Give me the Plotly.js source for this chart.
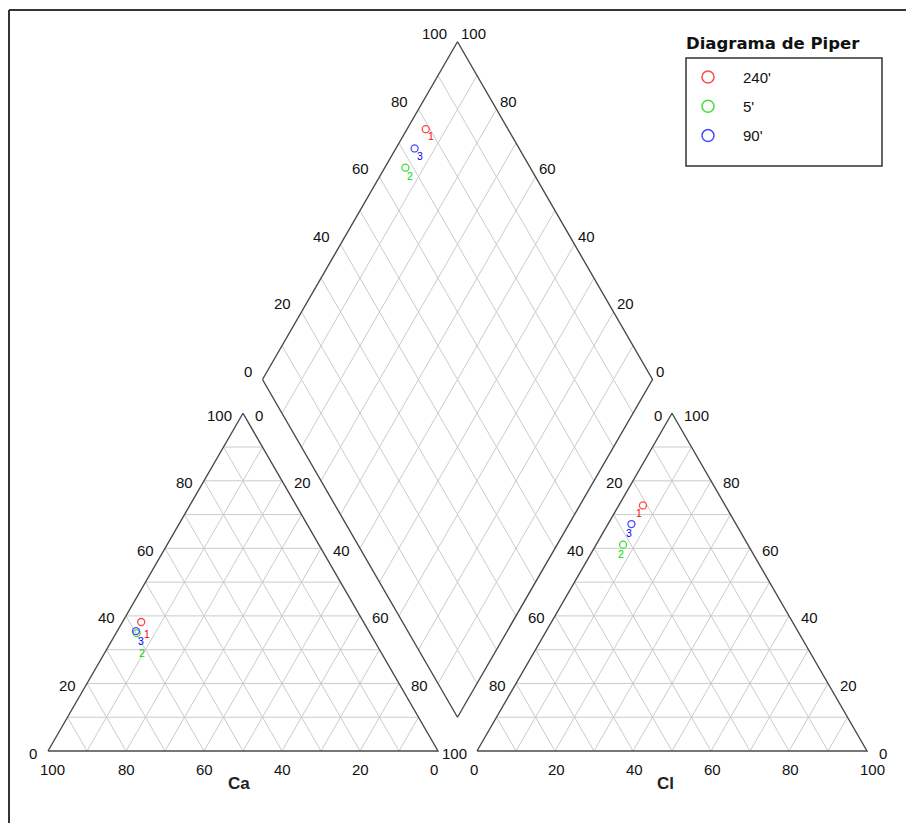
<!DOCTYPE html>
<html><head><meta charset="utf-8">
<script src="https://cdn.plot.ly/plotly-3.0.1.min.js"></script>
<style>html,body{margin:0;padding:0;background:#fff}#chart{width:906px;height:823px}</style>
</head><body><div id="chart"></div>
<script>
// ---------- data (percent of meq) ----------
const sampleIds   = ['1', '2', '3'];
const sampleNames = ["240'", "5'", "90'"];
const Ca   = [57.0, 59.8, 59.7];
const Mg   = [38.2, 34.9, 35.5];
const NaK  = [4.8, 5.3, 4.8];
const HCO3 = [21.1, 32.0, 26.8];
const SO4  = [72.7, 61.1, 67.2];
const Cl   = [6.2, 6.9, 6.0];
const tickValues = [0, 20, 40, 60, 80, 100];
const gridSteps = [10, 20, 30, 40, 50, 60, 70, 80, 90];
const cationTitle = 'Ca';
const anionTitle = 'Cl';
const legendTitle = 'Diagrama de Piper';

// ---------- styles ----------
const markerColors = ['#ff4a4a', '#3ee03e', '#4a4aff'];
const labelColors  = ['#ff0000', '#00d800', '#0000ff'];
const drawOrder = [0, 1, 2];
// label offsets (px, right/down) per panel [cation, diamond, anion], per sample
const labelOffsets = [
  [[6, 12], [5, 7], [-4, 8]],
  [[5, 20], [5, 8], [-2, 9]],
  [[5, 10], [5, 8], [-2, 9]]
];

// ---------- geometry (chart units, triangle side = 100) ----------
const H = Math.sqrt(3) / 2, GAP = 10;
const PXU = 3.9, X0 = 48, Y0 = 751, W = 906, HT = 823;
const A = [0, 0], B = [100, 0], C = [50, 100 * H];
const A2 = [100 + GAP, 0], B2 = [200 + GAP, 0], C2 = [150 + GAP, 100 * H];
const DB = [100 + GAP / 2, GAP * H];
const DL = [DB[0] - 50, DB[1] + 100 * H];
const DR = [DB[0] + 50, DB[1] + 100 * H];
const DT = [DB[0], DB[1] + 200 * H];
const lerp = (P, Q, t) => [P[0] + (Q[0] - P[0]) * t, P[1] + (Q[1] - P[1]) * t];
const pxX = px => (px - X0) / PXU;
const pxY = py => (Y0 - py) / PXU;

// ---------- grid ----------
const gx = [], gy = [];
function seg(P, Q) { gx.push(P[0], Q[0], null); gy.push(P[1], Q[1], null); }
function triGrid(a, b, c) {
  gridSteps.forEach(k => {
    const t = k / 100;
    seg(lerp(a, c, t), lerp(b, c, t));   // parallel to base
    seg(lerp(a, b, t), lerp(c, b, t));   // parallel to left side
    seg(lerp(a, b, t), lerp(a, c, t));   // parallel to right side
  });
}
triGrid(A, B, C);
triGrid(A2, B2, C2);
gridSteps.forEach(k => {
  const t = k / 100;
  seg(lerp(DL, DT, t), lerp(DB, DR, t));
  seg(lerp(DL, DB, t), lerp(DT, DR, t));
});
const ex = [], ey = [];
function poly(pts) { pts.forEach(p => { ex.push(p[0]); ey.push(p[1]); }); ex.push(pts[0][0], null); ey.push(pts[0][1], null); }
poly([A, B, C]); poly([A2, B2, C2]); poly([DL, DB, DR, DT]);

const traces = [
  {x: gx, y: gy, mode: 'lines', line: {color: '#cbcbcb', width: 1}, hoverinfo: 'skip', showlegend: false},
  {x: ex, y: ey, mode: 'lines', line: {color: '#4a4a4a', width: 1.4}, hoverinfo: 'skip', showlegend: false}
];

// ---------- sample positions ----------
function cationPt(i) { return [NaK[i] + Mg[i] / 2, Mg[i] * H]; }
function anionPt(i) { return [A2[0] + Cl[i] + SO4[i] / 2, SO4[i] * H]; }
function diamondPt(i) {
  const u = NaK[i] / 100, w = (SO4[i] + Cl[i]) / 100;
  return [DL[0] + u * (DB[0] - DL[0]) + w * (DT[0] - DL[0]), DL[1] + u * (DB[1] - DL[1]) + w * (DT[1] - DL[1])];
}
const annotations = [];
const labelFont = c => ({family: 'Liberation Sans, Arial, sans-serif', size: 10.5, color: c});
drawOrder.forEach(i => {
  const pts = [cationPt(i), diamondPt(i), anionPt(i)];
  traces.push({x: pts.map(p => p[0]), y: pts.map(p => p[1]), mode: 'markers', name: sampleNames[i],
    marker: {symbol: 'circle-open', size: 7, color: markerColors[i], line: {width: 1.3, color: markerColors[i]}},
    hoverinfo: 'skip', showlegend: false});
  pts.forEach((p, j) => annotations.push({x: p[0], y: p[1], text: sampleIds[i], showarrow: false,
    xanchor: 'center', yanchor: 'middle', xshift: labelOffsets[i][j][0], yshift: -labelOffsets[i][j][1], borderpad: 0,
    font: labelFont(labelColors[i])}));
});

// ---------- tick labels ----------
const tickFont = {family: 'Liberation Sans, Arial, sans-serif', size: 15, color: '#111'};
function lab(P, text, anchor, dx, dy) {
  annotations.push({x: P[0], y: P[1], text: String(text), showarrow: false, xanchor: anchor, yanchor: 'middle',
    xshift: dx, yshift: -dy, borderpad: 0, font: tickFont});
}
tickValues.forEach(v => {
  const t = v / 100;
  // cation triangle
  lab(lerp(A, B, t), 100 - v, 'left', -9, 18);          // Ca
  lab(lerp(A, C, t), v, 'right', -10, 2);               // Mg
  if (v < 100) lab(lerp(C, B, t), v, 'left', 11, 2);    // Na+K
  // anion triangle
  lab(lerp(A2, B2, t), v, 'left', -8, 18);              // Cl
  lab(lerp(C2, A2, t), v, 'right', -9, 2);              // HCO3
  lab(lerp(B2, C2, t), v, 'left', 11, 2);               // SO4
  // diamond
  lab(lerp(DL, DT, t), v, 'right', -10, -8);            // SO4+Cl
  lab(lerp(DR, DT, t), v, 'left', 2, -8);               // Ca+Mg
});
const titleFont = {family: 'Liberation Sans, Arial, sans-serif', size: 17, color: '#222'};
annotations.push({x: (A[0] + B[0]) / 2, y: 0, text: '<b>' + cationTitle + '</b>', showarrow: false,
  xanchor: 'center', yanchor: 'middle', xshift: -4, yshift: -32, font: titleFont});
annotations.push({x: (A2[0] + B2[0]) / 2, y: 0, text: '<b>' + anionTitle + '</b>', showarrow: false,
  xanchor: 'center', yanchor: 'middle', xshift: -7, yshift: -32, font: titleFont});

// ---------- legend (drawn in layout) ----------
const LG = {left: 686, right: 882, top: 58, bottom: 166, symX: 708, textX: 742, firstY: 77, step: 29.3, titleY: 43};
annotations.push({x: pxX(LG.left), y: pxY(LG.titleY), text: '<b>' + legendTitle + '</b>', showarrow: false,
  xanchor: 'left', yanchor: 'middle', borderpad: 0, xshift: -1,
  font: {family: 'DejaVu Sans, Verdana, sans-serif', size: 16.5, color: '#111'}});
const legX = [], legY = [], legC = [];
sampleNames.forEach((n, i) => {
  const y = pxY(LG.firstY + LG.step * i);
  legX.push(pxX(LG.symX)); legY.push(y); legC.push(markerColors[i]);
  annotations.push({x: pxX(LG.textX), y: y, text: n, showarrow: false, xanchor: 'left', yanchor: 'middle',
    borderpad: 0, font: {family: 'Liberation Sans, Arial, sans-serif', size: 15, color: '#111'}});
});
traces.push({x: legX, y: legY, mode: 'markers', hoverinfo: 'skip', showlegend: false,
  marker: {symbol: 'circle-open', size: 12, color: legC, line: {width: 1.5, color: legC}}});

const shapes = [
  {type: 'rect', xref: 'x', yref: 'y', x0: pxX(LG.left), x1: pxX(LG.right), y0: pxY(LG.top), y1: pxY(LG.bottom),
   line: {color: '#333', width: 1.5}},
  {type: 'line', xref: 'paper', yref: 'paper', x0: 9 / W, x1: 9 / W, y0: 1 - 10 / HT, y1: -0.05, line: {color: '#333', width: 2}},
  {type: 'line', xref: 'paper', yref: 'paper', x0: 9 / W, x1: 1.05, y0: 1 - 10 / HT, y1: 1 - 10 / HT, line: {color: '#333', width: 2}}
];

const layout = {
  width: W, height: HT, margin: {l: 0, r: 0, t: 0, b: 0},
  paper_bgcolor: '#fff', plot_bgcolor: '#fff', showlegend: false, hovermode: false,
  xaxis: {range: [-X0 / PXU, (W - X0) / PXU], visible: false, fixedrange: true},
  yaxis: {range: [(Y0 - HT) / PXU, Y0 / PXU], visible: false, fixedrange: true},
  annotations: annotations, shapes: shapes
};
Plotly.newPlot('chart', traces, layout, {displayModeBar: false, staticPlot: true});
</script></body></html>
